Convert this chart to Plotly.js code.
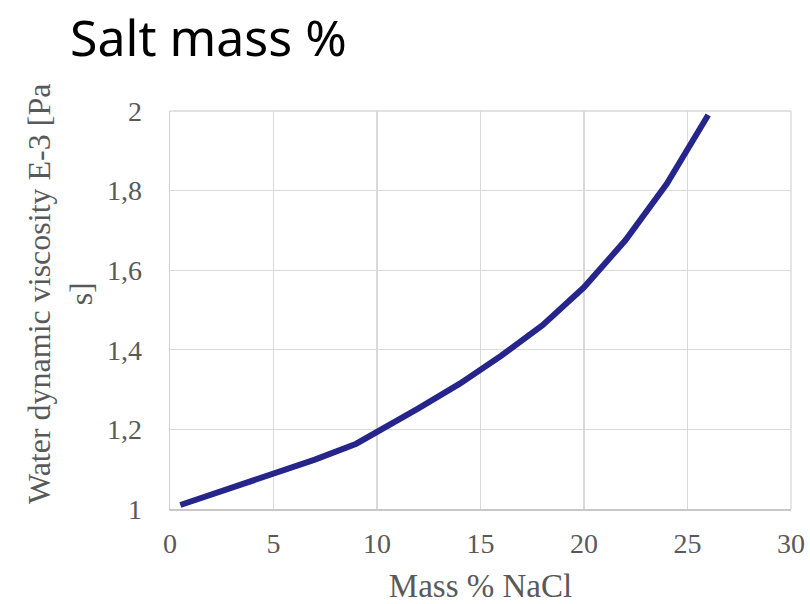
<!DOCTYPE html>
<html>
<head>
<meta charset="utf-8">
<script src="https://cdn.plot.ly/plotly-3.0.1.min.js"></script>
<style>
  html, body { margin: 0; padding: 0; background: #ffffff; }
  #chart { width: 810px; height: 604px; }
</style>
</head>
<body>
<div id="chart"></div>
<script>
// NaCl mass fraction (%) and the dynamic viscosity of the brine (×10⁻³ Pa·s)
const massPercent = [0.5, 5, 7, 9, 10, 12, 14, 16, 18, 20, 22, 24, 26];
const viscosity   = [1.01, 1.088, 1.124, 1.164, 1.193, 1.253, 1.315, 1.385, 1.462, 1.557, 1.675, 1.817, 1.99];

const xTicks = [0, 5, 10, 15, 20, 25, 30];
const yTicks = [1, 1.2, 1.4, 1.6, 1.8, 2];
const yTickText = ['1', '1,2', '1,4', '1,6', '1,8', '2'];

const serif = 'Liberation Serif, Times New Roman, serif';
const tickGrey = '#595959';

const trace = {
  x: massPercent,
  y: viscosity,
  type: 'scatter',
  mode: 'lines',
  line: { color: '#25258c', width: 6, shape: 'linear' },
  hoverinfo: 'x+y'
};

const layout = {
  width: 810,
  height: 604,
  paper_bgcolor: '#ffffff',
  plot_bgcolor: '#ffffff',
  showlegend: false,
  margin: { l: 170, r: 19, t: 111, b: 95 },
  title: {
    text: 'Salt mass %',
    font: { family: 'Noto Sans, sans-serif', size: 50, color: '#000000' },
    x: 0, xref: 'paper', xanchor: 'left',
    y: 1 - 38 / 604, yref: 'container', yanchor: 'middle',
    pad: { l: -100 }
  },
  xaxis: {
    range: [0, 30],
    tickvals: xTicks,
    ticktext: xTicks.map(String),
    showgrid: true,
    gridcolor: '#d9d9d9',
    gridwidth: 1.3,
    zeroline: false,
    showline: true,
    linecolor: '#c8c8c8',
    linewidth: 1.5,
    ticks: '',
    ticklabelstandoff: 9,
    tickfont: { family: serif, size: 28, color: tickGrey },
    title: {
      text: 'Mass % NaCl',
      font: { family: serif, size: 33, color: tickGrey },
      standoff: 16
    }
  },
  yaxis: {
    range: [1, 2],
    tickvals: yTicks,
    ticktext: yTickText,
    showgrid: true,
    gridcolor: '#d9d9d9',
    gridwidth: 1.3,
    zeroline: false,
    showline: true,
    linecolor: '#d0d0d0',
    linewidth: 1.3,
    ticks: '',
    ticklabelstandoff: 21,
    tickfont: { family: serif, size: 28, color: tickGrey }
  },
  // y-axis title, wrapped onto two lines and sitting a little above centre
  annotations: [
    {
      text: 'Water dynamic viscosity E-3 [Pa<br>s]',
      textangle: -90,
      xref: 'paper', yref: 'paper',
      x: 0, y: 0.5,
      xanchor: 'center', yanchor: 'middle',
      xshift: -110, yshift: 16,
      showarrow: false,
      font: { family: serif, size: 32, color: tickGrey }
    }
  ],
  shapes: [
    { type: 'line', xref: 'paper', yref: 'paper', x0: 1, x1: 1, y0: 0, y1: 1,
      line: { color: '#d9d9d9', width: 1.3 } },
    { type: 'line', xref: 'paper', yref: 'paper', x0: 0, x1: 1, y0: 1, y1: 1,
      line: { color: '#d9d9d9', width: 1.3 } }
  ]
};

Plotly.newPlot('chart', [trace], layout, { displayModeBar: false, staticPlot: true });
</script>
</body>
</html>
